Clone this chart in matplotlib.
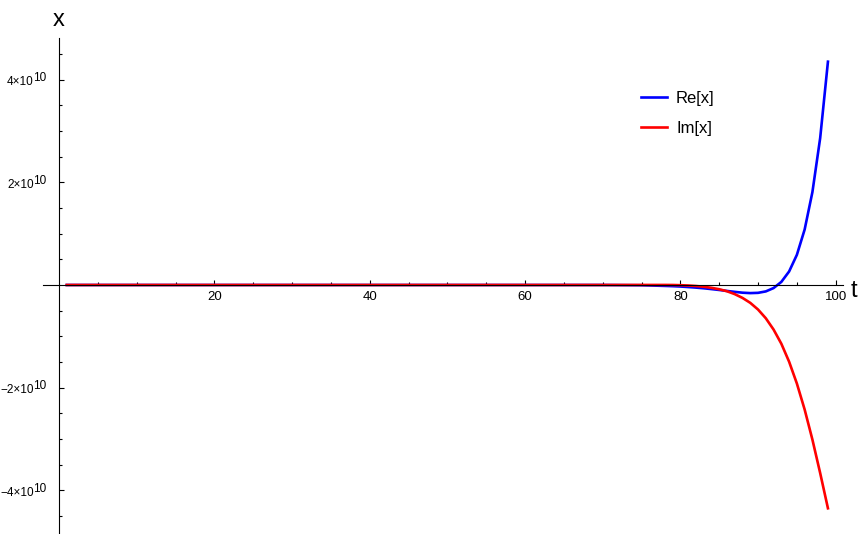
import matplotlib
matplotlib.use("Agg")
import matplotlib.pyplot as plt
from matplotlib.ticker import FixedLocator, NullFormatter
import numpy as np

plt.rcParams["font.family"] = ["Liberation Sans", "DejaVu Sans"]

# values, in units of 1e10
t = [1, 10, 20, 30, 40, 50, 60, 70, 75, 78, 79, 80, 81, 82, 83, 84, 85, 86,
     87, 88, 89, 90, 91, 92, 93, 94, 95, 96, 97, 98, 99]
re_x = [0, 0, 0, 0, 0, 0, 0, 0, -0.005, -0.018, -0.023, -0.030, -0.040,
        -0.051, -0.064, -0.080, -0.097, -0.116, -0.134, -0.150, -0.158,
        -0.153, -0.125, -0.060, 0.060, 0.263, 0.587, 1.080, 1.809, 2.862,
        4.349]
im_x = [0, 0, 0, 0, 0, 0, 0, 0, 0.001, 0.001, 0.0, -0.004, -0.010, -0.020,
        -0.034, -0.055, -0.083, -0.122, -0.178, -0.252, -0.348, -0.478,
        -0.648, -0.868, -1.144, -1.494, -1.919, -2.425, -3.011, -3.663,
        -4.349]

x_major = [20, 40, 60, 80, 100]
y_major = [-4, -2, 2, 4]

fig = plt.figure(figsize=(8.61, 5.34), dpi=100)
W, H = 861, 534
ax = fig.add_axes([43 / W, 1 - 533 / H, (842.7 - 43) / W, (533 - 38) / H])

scale = 1e10
ax.plot(t, np.array(re_x) * scale, color="#0000ff", lw=1.9, label="Re[x]")
ax.plot(t, np.array(im_x) * scale, color="#ff0000", lw=1.9, label="Im[x]")

ax.set_xlim(-2.06, 100.9)
ax.set_ylim(-4.83e10, 4.81e10)

for s in ["top", "right"]:
    ax.spines[s].set_visible(False)
ax.spines["left"].set_position(("data", 0))
ax.spines["bottom"].set_position(("data", 0))
for s in ["left", "bottom"]:
    ax.spines[s].set_linewidth(0.8)
    ax.spines[s].set_color("black")

ax.xaxis.set_major_locator(FixedLocator(x_major))
ax.xaxis.set_minor_locator(FixedLocator([v for v in range(5, 100, 5) if v % 20]))
ax.yaxis.set_major_locator(FixedLocator([v * scale for v in y_major]))
ax.yaxis.set_minor_locator(FixedLocator(
    [v * 0.5 * scale for v in range(-9, 10) if v != 0 and v % 4]))
ax.yaxis.set_major_formatter(NullFormatter())

ax.tick_params(which="both", direction="in", color="black", width=0.8)
ax.tick_params(which="major", length=3.8)
ax.tick_params(which="minor", length=2.2)
ax.tick_params(axis="x", labelsize=9.5, pad=4)

# y tick labels in Mathematica style: mantissa x 10 with a same-size exponent
for m in y_major:
    sign = "\u2212" if m < 0 else ""
    ax.annotate(sign + str(abs(m)) + "\u00d710", xy=(0, m * scale),
                xycoords="data", xytext=(-18.2, -3.8), textcoords="offset points",
                ha="right", va="baseline", fontsize=8.5)
    ax.annotate("10", xy=(0, m * scale), xycoords="data",
                xytext=(-9.4, -1.0), textcoords="offset points",
                ha="right", va="baseline", fontsize=8.5)

fig.text(59 / W, 1 - 26 / H, "x", fontsize=17, ha="center", va="baseline")
fig.text(851 / W, 1 - 297 / H, "t", fontsize=17, ha="left", va="baseline")

ax.legend(loc="upper left", bbox_to_anchor=(641 / W, 1 - 91 / H),
          bbox_transform=fig.transFigure, frameon=False, fontsize=12,
          handlelength=1.56, handletextpad=0.54, labelspacing=0.88,
          borderpad=0, borderaxespad=0)

fig.savefig("out.png", dpi=100)
